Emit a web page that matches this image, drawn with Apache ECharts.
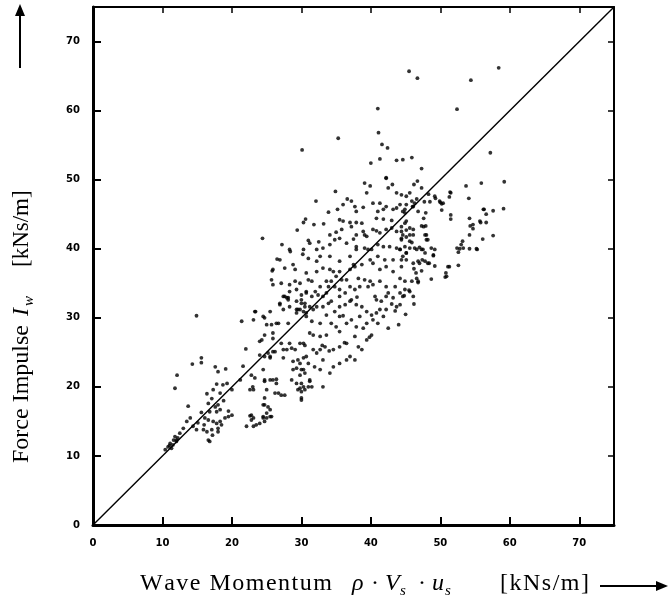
<!DOCTYPE html>
<html lang="en">
<head>
    <meta charset="UTF-8">
    <title>Force Impulse vs Wave Momentum</title>
    <script src="https://cdn.jsdelivr.net/npm/echarts@6/dist/echarts.min.js"></script>
    <style>
        html, body { margin: 0; padding: 0; background: #fff; }
        #main { width: 668px; height: 604px; }
    </style>
</head>
<body>
<div id="main"></div>
<script>
    // axis ticks
    let tickValues = [0, 10, 20, 30, 40, 50, 60, 70];
    let axisMax = 75;

    // points: [wave momentum, force impulse] in kNs/m
    let lowCluster = [
        [10.4,10.9],[10.8,11.3],[11.1,11.8],[11.3,11.1],[11.6,12.3],[11.8,12.8],[12.0,12.1],[12.5,13.3],[11.0,11.5],[11.5,11.6],
        [12.2,12.6],[13.0,14.0],[13.5,15.0],[14.4,14.3],[14.9,13.8],[15.1,14.8],[15.6,16.3],[15.9,13.8],[16.1,15.5],[16.4,13.5],
        [16.6,15.2],[16.6,12.3],[16.8,12.1],[17.1,13.8],[17.2,13.0],[17.3,15.0],[17.8,14.7],[18.0,14.0],[18.0,13.5],[18.3,15.0],
        [18.5,14.5],[19.0,15.5],[19.5,15.7],[20.0,15.9],[13.7,17.2],[16.6,17.6],[17.6,17.1],[18.0,17.4],[18.3,16.7],[17.8,16.4],
        [16.8,16.4],[16.4,19.0],[17.1,18.3],[17.3,19.6],[18.3,19.1],[20.0,19.6],[17.8,20.4],[18.7,20.3],[19.3,20.5],[17.6,22.9],
        [18.0,22.2],[19.1,22.6],[14.3,23.3],[15.6,24.2],[15.6,23.5],[12.1,21.7],[11.8,19.8],[14.9,30.3],[12.0,12.3],[16.0,14.5],
        [19.5,16.5],[18.8,18.0],[14.0,15.5]
    ];
    let mainLower = [
        [21.4,29.5],[23.1,29.7],[23.4,30.9],[24.7,30.0],[25.0,29.0],[25.5,30.9],[25.7,29.0],[26.7,29.2],[28.1,29.2],[27.4,31.2],
        [27.9,32.9],[26.9,31.9],[29.3,31.2],[30.0,32.1],[30.3,30.9],[30.7,30.2],[24.0,26.6],[24.3,26.8],[25.9,27.0],[27.1,26.3],
        [26.2,25.1],[25.2,24.9],[24.7,24.4],[24.0,24.6],[25.5,24.2],[27.4,24.2],[27.9,25.4],[28.6,25.6],[28.8,23.7],[29.5,23.9],
        [30.3,24.2],[29.8,26.3],[30.5,26.0],[29.3,22.7],[30.0,22.5],[30.5,22.0],[29.8,21.7],[29.3,20.5],[30.3,20.0],[29.5,19.6],
        [30.0,18.4],[22.8,21.7],[23.3,21.3],[24.5,22.5],[24.7,21.0],[25.5,21.0],[26.4,21.1],[23.0,20.0],[22.6,19.6],[24.7,18.4],
        [24.5,17.4],[25.2,17.1],[25.5,16.7],[25.0,16.2],[24.5,15.7],[25.0,15.5],[25.5,15.7],[22.6,15.8],[22.8,15.2],[22.1,14.3],
        [23.1,14.3],[23.5,14.5],[24.0,14.7],[26.7,19.1],[27.1,18.8],[27.6,18.8],[24.7,20.8],[26.2,19.1],[24.7,17.4],[25.7,15.7],
        [24.5,15.5],[22.8,15.9],[23.1,15.5],[24.7,15.0],[29.8,19.8],[31.0,20.0],[31.2,20.8],[30.0,19.3],[30.5,19.6],[33.1,20.0],
        [30.0,18.1],[21.2,21.0],[25.9,21.0],[26.4,20.5],[25.0,19.6],[23.1,19.6],[28.6,21.0],[30.0,20.5],[31.5,20.0],[31.2,21.0],
        [28.8,22.5],[29.8,23.4],[30.7,24.4],[32.2,24.9],[33.1,23.9],[32.7,22.5],[34.1,22.0],[34.6,22.9],[35.5,23.4],[36.5,23.9],
        [37.0,24.4],[37.7,23.9],[38.2,25.8],[37.7,27.3],[37.9,28.7],[37.2,29.7],[36.5,29.2],[35.5,28.0],[35.0,28.7],[33.6,27.5],
        [32.7,27.3],[31.7,27.5],[31.2,27.8],[30.3,26.3],[29.1,25.4],[28.3,26.3],[27.4,25.4],[25.9,25.1],[25.5,24.4],[24.7,27.5],
        [25.9,27.8],[26.4,29.2],[24.5,30.2],[23.3,30.9],[28.3,31.6],[31.5,29.5],[32.7,29.2],[33.6,30.4],[34.8,30.9],[35.5,31.6],
        [36.3,31.9],[37.0,32.4],[38.7,31.6],[39.4,30.9],[40.1,30.4],[40.8,30.7],[41.3,31.2],[42.2,31.2],[41.8,30.2],[41.0,29.2],
        [40.3,29.7],[39.4,29.2],[38.9,28.5],[38.4,30.2],[22.0,25.5],[21.6,23.0],[43.5,31.0],[45.0,30.5],[46.2,32.0],[44.0,29.0],
        [42.5,28.5],[39.8,27.2],[36.2,26.4],[34.0,25.2],[33.0,26.0],[35.5,30.2],[34.3,29.2],[40.1,27.5],[39.4,26.8],[38.7,25.4],
        [34.6,25.4],[35.5,25.8],[36.5,26.3],[33.4,25.8],[31.7,25.4],[32.7,25.4],[31.0,23.4],[31.9,22.9],[30.3,22.5]
    ];
    let mainMiddle = [
        [25.7,35.5],[25.9,34.8],[27.1,35.0],[28.3,34.8],[29.1,35.3],[29.8,35.0],[31.0,35.5],[29.3,34.1],[27.4,33.1],[28.1,32.9],
        [26.9,32.1],[30.0,32.6],[30.5,32.1],[31.2,31.6],[29.8,31.2],[29.3,30.7],[30.7,30.7],[31.7,31.2],[32.4,33.3],[33.1,33.1],
        [32.7,34.5],[33.9,34.5],[34.3,35.3],[35.0,36.0],[34.8,34.5],[35.5,34.1],[36.5,35.5],[37.0,34.5],[37.7,34.1],[38.4,34.5],
        [39.1,35.5],[39.9,35.3],[39.6,34.5],[40.3,34.8],[41.3,35.3],[42.2,34.5],[42.5,33.6],[42.2,33.1],[43.5,34.5],[44.2,35.7],
        [44.9,34.1],[44.6,33.1],[45.6,33.8],[46.1,33.1],[46.8,35.3],[46.6,35.7],[30.7,33.6],[31.5,33.1],[32.0,33.8],[33.6,33.6],
        [32.2,31.6],[33.1,31.6],[33.9,32.1],[34.3,32.4],[35.5,33.1],[36.3,33.6],[27.6,33.1],[28.1,32.6],[29.3,32.4],[30.0,33.3],
        [30.5,31.6],[29.5,31.2],[30.7,33.8],[37.0,38.9],[37.9,39.9],[39.1,40.1],[39.6,39.9],[39.9,38.4],[37.5,37.7],[35.5,38.2],
        [34.1,38.9],[32.7,38.9],[32.2,38.2],[31.0,38.6],[28.8,37.7],[29.1,37.0],[30.7,36.5],[32.2,36.7],[33.1,37.2],[34.1,37.0],
        [34.6,36.7],[35.5,36.7],[37.0,37.0],[37.7,37.4],[38.7,37.7],[40.3,37.9],[41.3,37.0],[42.2,37.4],[43.2,36.7],[43.2,38.4],
        [42.0,38.4],[41.0,38.9],[40.1,39.9],[41.0,40.6],[26.5,38.5],[27.6,37.2],[28.4,39.6],[30.2,39.2],[31.0,41.2],[32.5,41.0],
        [33.2,43.6],[30.3,43.8],[27.2,40.6],[25.8,36.8],[24.4,41.5],[29.4,42.7],[44.8,33.2],[45.5,34.0],[45.9,35.3],[46.8,35.1],
        [44.9,35.3],[44.2,31.9],[36.0,30.3],[38.0,33.0],[40.8,32.6],[43.0,32.0],[28.3,33.8],[31.5,35.3],[33.6,35.3],[35.8,35.5],
        [38.2,35.7],[37.2,32.6],[37.9,31.9],[40.6,33.1],[41.5,32.4],[43.2,32.9],[44.2,33.6],[43.7,31.6],[37.9,40.3],[36.5,40.8],
        [35.5,41.5],[34.1,40.6],[33.1,40.1],[32.2,39.9],[31.2,40.8],[30.3,39.9],[28.3,39.9],[26.9,38.4],[25.9,37.0]
    ];
    let mainUpper = [
        [33.9,45.3],[35.2,45.7],[36.6,47.2],[37.2,46.9],[37.9,45.4],[38.9,46.0],[35.5,44.2],[36.0,44.0],[37.0,43.8],[37.9,43.8],
        [38.7,43.7],[34.1,42.0],[35.0,42.4],[34.8,41.3],[37.2,43.2],[37.5,41.4],[38.9,42.5],[39.1,42.0],[40.3,42.8],[40.8,42.6],
        [40.3,46.6],[41.3,46.6],[42.2,46.1],[41.0,45.4],[41.8,45.7],[43.2,45.7],[43.7,45.9],[44.9,45.2],[45.1,46.4],[40.8,44.4],
        [41.8,44.3],[43.0,44.1],[42.2,42.8],[43.0,43.0],[43.7,42.5],[44.4,43.2],[45.1,44.0],[45.6,43.0],[44.6,42.0],[44.4,41.3],
        [45.6,41.1],[46.1,42.0],[47.3,43.3],[47.8,42.0],[48.0,41.3],[42.7,40.3],[43.7,40.1],[44.2,39.9],[45.1,39.4],[45.6,40.1],
        [46.6,39.9],[47.3,39.9],[47.8,39.4],[48.7,40.1],[49.0,39.0],[48.2,37.9],[47.0,37.9],[46.1,37.9],[45.1,38.4],[44.4,38.4],
        [44.4,47.8],[45.6,48.1],[44.6,45.4],[44.9,45.7],[45.9,46.9],[46.3,46.6],[46.0,46.1],[46.8,45.4],[47.9,45.2],[46.6,47.2],
        [47.3,48.8],[47.6,44.4],[47.9,43.3],[47.6,43.2],[44.9,43.7],[45.1,42.7],[44.4,42.5],[46.1,42.8],[45.6,42.0],[44.4,41.5],
        [45.1,41.7],[48.0,42.0],[48.2,41.3],[45.9,40.9],[46.3,40.1],[47.0,40.2],[47.5,39.9],[44.9,40.3],[44.2,39.9],[45.1,39.4],
        [44.6,38.9],[44.4,37.4],[47.4,38.4],[49.2,39.9],[49.0,39.1],[32.1,46.9],[34.9,48.3],[39.1,49.5],[39.9,49.1],[42.2,50.2],
        [43.1,49.3],[42.5,48.8],[46.2,49.3],[46.7,49.8],[40.0,52.4],[41.6,55.1],[42.4,54.6],[41.3,53.0],[43.7,52.8],[44.6,52.9],
        [45.9,53.2],[47.3,51.6],[42.2,50.3],[30.6,44.3],[31.8,43.5],[37.9,42.0],[39.4,41.8],[41.3,42.3],[41.8,40.3],[44.2,46.4],
        [43.7,48.1],[45.1,47.6],[46.1,46.1],[39.4,48.1],[37.7,46.1],[36.0,46.4],[35.8,42.8]
    ];
    let rightCluster = [
        [48.3,47.9],[49.3,47.3],[47.7,46.8],[48.5,46.8],[50.0,46.7],[50.2,46.5],[50.2,45.6],[51.5,44.9],[51.5,44.3],[51.5,48.1],
        [51.3,47.5],[53.7,49.1],[55.9,49.5],[59.2,49.7],[54.1,47.3],[56.3,45.7],[56.6,45.0],[57.6,45.5],[59.1,45.8],[54.2,44.4],
        [55.8,43.8],[56.6,43.8],[54.3,43.3],[54.7,42.9],[54.2,42.0],[57.6,41.9],[56.1,41.4],[53.2,41.1],[52.8,40.0],[52.4,40.1],
        [52.6,39.5],[53.3,40.1],[54.2,40.0],[55.3,39.9],[52.6,37.6],[51.3,37.4],[50.8,36.5],[50.7,35.9],[48.7,35.6],[49.2,37.5],
        [48.4,37.9],[47.8,38.2],[46.8,38.2],[47.3,36.8],[46.5,36.5],[46.2,37.1],[51.1,37.4],[50.9,36.0],[53.0,40.6],[55.2,40.0],
        [54.7,43.5],[55.7,44.0],[56.2,45.7],[51.4,48.2],[50.4,46.6],[49.9,46.9],[49.2,47.6]
    ];
    let outliers = [
        [30.1,54.3],[35.3,56.0],[41.0,60.3],[41.1,56.8],[45.5,65.7],[46.7,64.7],[52.4,60.2],[54.4,64.4],[58.4,66.2],[57.2,53.9]
    ];

    let allPoints = lowCluster.concat(mainLower, mainMiddle, mainUpper, rightCluster, outliers);

    let tickFont = { color: '#000', fontFamily: 'DejaVu Sans', fontWeight: 'bold', fontSize: 10 };

    function mainAxis(pos) {
        return {
            type: 'value', position: pos, min: 0, max: axisMax, interval: 10,
            axisLine: { show: true, onZero: false, lineStyle: { color: '#000', width: 3 } },
            axisTick: { show: true, inside: true, length: 8, lineStyle: { color: '#000', width: 2 } },
            axisLabel: Object.assign({ margin: 13, showMaxLabel: false,
                formatter: function(v) { return tickValues.indexOf(v) >= 0 ? String(v) : ''; } }, tickFont),
            splitLine: { show: false }
        };
    }
    function frameAxis(pos) {
        return {
            type: 'value', position: pos, min: 0, max: axisMax, interval: 10,
            axisLine: { show: true, onZero: false, lineStyle: { color: '#000', width: 2 } },
            axisTick: { show: true, inside: true, length: 6, lineStyle: { color: '#000', width: 1.5 } },
            axisLabel: { show: false },
            splitLine: { show: false }
        };
    }

    // letter-spaced text: one rich token per character
    function spaced(str) {
        return str.split('').map(function(c) { return '{c|' + c + '}'; }).join('');
    }

    let serif = 'Liberation Serif';
    function label(x, y, text, size, opts) {
        opts = opts || {};
        let el = {
            type: 'text', x: x, y: y, rotation: opts.rotation || 0,
            style: {
                text: text, fill: '#000', align: 'left', verticalAlign: 'middle',
                font: (opts.italic ? 'italic ' : '') + size + 'px "' + serif + '"'
            }
        };
        if (opts.spacing) {
            el.style.rich = { c: { fontFamily: serif, fontSize: size, color: '#000', padding: [0, opts.spacing, 0, 0] } };
        }
        return el;
    }

    let titleY = 584;
    let rot = Math.PI / 2;

    let myChart = echarts.init(document.getElementById('main'));
    let option = {
        backgroundColor: '#fff',
        animation: false,
        grid: { left: 93, right: 54, top: 7, bottom: 79 },
        xAxis: [mainAxis('bottom'), frameAxis('top')],
        yAxis: [mainAxis('left'), frameAxis('right')],
        series: [
            {
                type: 'line',
                data: [[0, 0], [axisMax, axisMax]],
                symbol: 'none',
                lineStyle: { color: '#000', width: 1.4 },
                z: 2
            },
            {
                type: 'scatter',
                data: allPoints,
                symbolSize: 3.8,
                itemStyle: { color: '#000' },
                z: 3
            }
        ],
        graphic: [
            // x axis title
            label(140, titleY, spaced('Wave Momentum'), 24, { spacing: 1.5 }),
            label(352, titleY, 'ρ', 24, { italic: true }),
            label(371, titleY, '·', 24),
            label(385, titleY, 'V', 24, { italic: true }),
            label(400, titleY + 7, 's', 15, { italic: true }),
            label(418, titleY, '·', 24),
            label(432, titleY, 'u', 24, { italic: true }),
            label(445, titleY + 7, 's', 15, { italic: true }),
            label(500, titleY, spaced('[kNs/m]'), 24, { spacing: 1.5 }),
            { type: 'line', shape: { x1: 600, y1: 586, x2: 660, y2: 586 }, style: { stroke: '#000', lineWidth: 2 } },
            { type: 'polygon', shape: { points: [[668, 586], [656, 581], [656, 591]] }, style: { fill: '#000' } },
            // y axis title, reading upwards
            label(22, 463, 'Force Impulse', 24, { rotation: rot }),
            label(22, 316, 'I', 24, { rotation: rot, italic: true }),
            label(29, 306, 'w', 15, { rotation: rot, italic: true }),
            label(22, 267, '[kNs/m]', 23, { rotation: rot }),
            { type: 'line', shape: { x1: 20, y1: 68, x2: 20, y2: 14 }, style: { stroke: '#000', lineWidth: 2 } },
            { type: 'polygon', shape: { points: [[20, 4], [15, 16], [25, 16]] }, style: { fill: '#000' } }
        ]
    };
    myChart.setOption(option);
</script>
</body>
</html>
